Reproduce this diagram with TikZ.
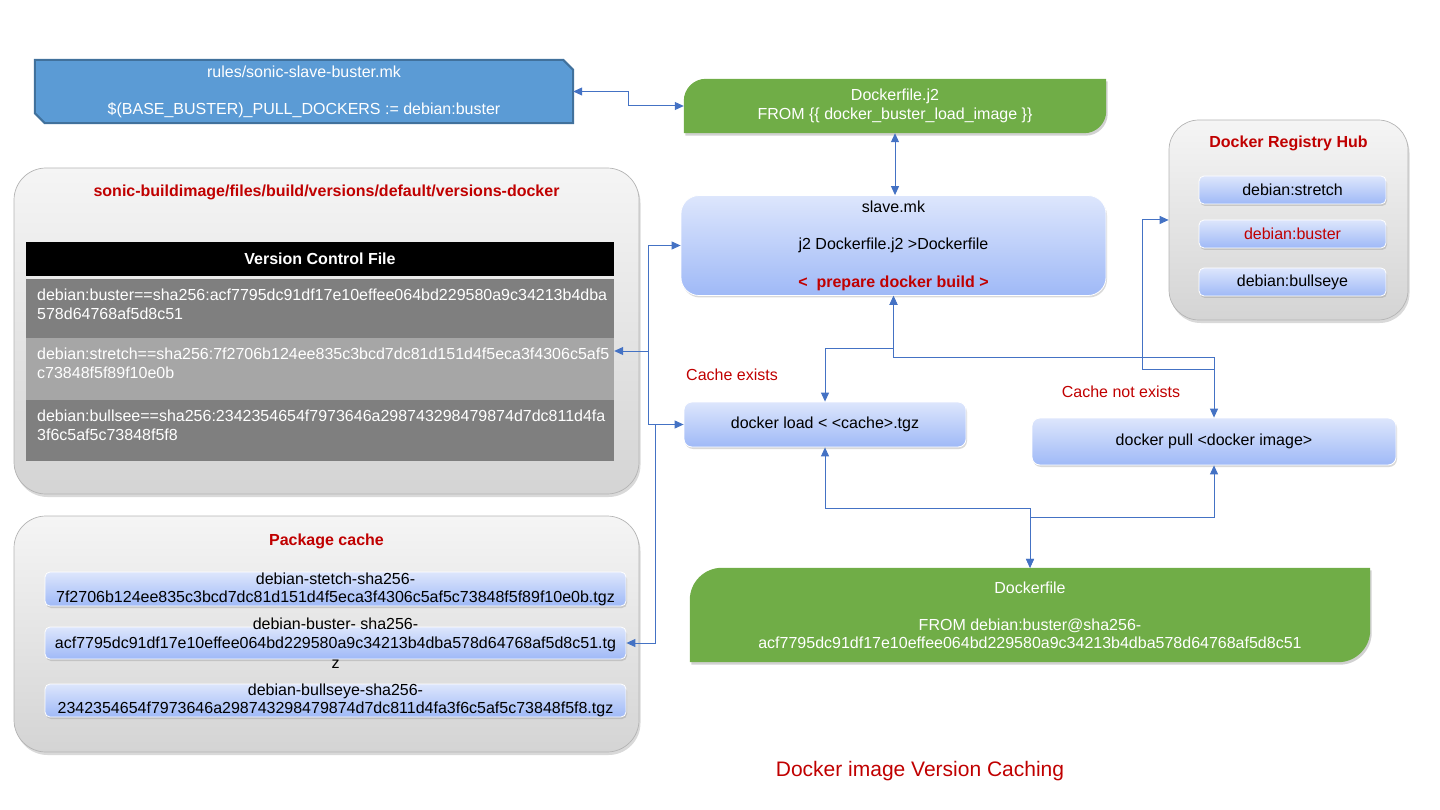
\documentclass[tikz,border=0pt]{standalone}
\usepackage{fontspec}
\setmainfont{Liberation Sans}
\usetikzlibrary{arrows.meta,shadows,calc}
\definecolor{cblue}{HTML}{4472C4}
\definecolor{gfill}{HTML}{70AD47}
\definecolor{rfill}{HTML}{5B9BD5}
\definecolor{rdraw}{HTML}{41719C}
\definecolor{dred}{HTML}{C00000}
\definecolor{bt}{HTML}{DDE6FC}
\definecolor{bb}{HTML}{9FB9F7}
\definecolor{gt}{HTML}{F5F5F5}
\definecolor{gb}{HTML}{D4D4D4}
\definecolor{gdraw}{HTML}{B4B4B4}
\definecolor{rowa}{HTML}{7F7F7F}
\definecolor{rowb}{HTML}{A6A6A6}
\newcommand\fsz{\fontsize{16pt}{19pt}\selectfont}
\newcommand\greenshape[3]{%
 \path[#3] (#1.south west) -- ($(#1.north west)+(0,#2)$) .. controls ($(#1.north west)+(0,0.45*#2)$) and ($(#1.north west)+(0.45*#2,0)$) .. ($(#1.north west)+(#2,0)$) -- (#1.north east) -- ($(#1.south east)+(0,-#2)$) .. controls ($(#1.south east)+(0,-0.45*#2)$) and ($(#1.south east)+(-0.45*#2,0)$) .. ($(#1.south east)+(-#2,0)$) -- cycle;}
\pgfdeclarelayer{bg}
\pgfsetlayers{bg,main}
\begin{document}
\begin{tikzpicture}[x=1pt,y=-1pt,
  every node/.style={font=\fsz, inner sep=0pt},
  conn/.style={draw=cblue, line width=1pt},
  bi/.style={conn, {Triangle[length=9pt,width=8pt]}-{Triangle[length=9pt,width=8pt]}},
  uni/.style={conn, -{Triangle[length=9pt,width=8pt]}},
  ctr/.style={rounded corners=32pt, top color=gt, bottom color=gb, draw=gdraw, line width=0.7pt,
    drop shadow={opacity=0.3, shadow xshift=1.5pt, shadow yshift=-3pt}},
  bbox/.style={top color=bt, bottom color=bb, draw=white, line width=0.8pt,
    drop shadow={opacity=0.3, shadow xshift=1pt, shadow yshift=-2pt}},
  ttl/.style={text=dred, font=\fsz\bfseries},
  rowtxt/.style={anchor=north west, align=left, text=white},
  redtxt/.style={text=dred}
]
\useasboundingbox (0,0) rectangle (1440,810);

% containers
\node[ctr, minimum width=625pt, minimum height=326pt] (vc) at (326.5,331) {};
\node[ctr, minimum width=625pt, minimum height=236pt] (pc) at (326.5,634) {};
\node[ctr, rounded corners=30pt, minimum width=239pt, minimum height=200pt] (hub) at (1288.5,220) {};

\node[ttl] (vct) at (326.5,192) {sonic-buildimage/files/build/versions/default/versions-docker};
\node[ttl] (pct) at (326.5,541) {Package cache};
\node[ttl] (hubt) at (1288.5,143) {Docker Registry Hub};

% table
\node[fill=black, minimum width=588pt, minimum height=34pt, text=white, font=\fsz\bfseries] (hdr) at (320,259) {Version Control File};
\node[fill=rowa, minimum width=588pt, minimum height=59pt] (r1) at (320,308.5) {};
\node[fill=rowb, minimum width=588pt, minimum height=62pt] (r2) at (320,369) {};
\node[fill=rowa, minimum width=588pt, minimum height=61pt] (r3) at (320,430.5) {};
\node[rowtxt] (t1) at (37,289) {debian:buster==sha256:acf7795dc91df17e10effee064bd229580a9c34213b4dba\\578d64768af5d8c51};
\node[rowtxt] (t2) at (37,348) {debian:stretch==sha256:7f2706b124ee835c3bcd7dc81d151d4f5eca3f4306c5af5\\c73848f5f89f10e0b};
\node[rowtxt] (t3) at (37,410) {debian:bullsee==sha256:2342354654f7973646a298743298479874d7dc811d4fa\\3f6c5af5c73848f5f8};

% package cache items
\node[bbox, rounded corners=5pt, minimum width=581pt, minimum height=34pt, align=center, font=\fontsize{16pt}{18pt}\selectfont] (p1) at (335.5,589) {debian-stetch-sha256-\\7f2706b124ee835c3bcd7dc81d151d4f5eca3f4306c5af5c73848f5f89f10e0b.tgz};
\node[bbox, rounded corners=5pt, minimum width=581pt, minimum height=32pt,
  label={[align=center, font=\fontsize{16pt}{19.5pt}\selectfont]center:debian-buster- sha256-\\acf7795dc91df17e10effee064bd229580a9c34213b4dba578d64768af5d8c51.tg\\z}] (p2) at (335.5,643) {};
\node[bbox, rounded corners=5pt, minimum width=581pt, minimum height=33pt, align=center, font=\fontsize{16pt}{18pt}\selectfont] (p3) at (335.5,700.5) {debian-bullseye-sha256-\\2342354654f7973646a298743298479874d7dc811d4fa3f6c5af5c73848f5f8.tgz};

% registry items
\node[bbox, rounded corners=5pt, minimum width=187pt, minimum height=28pt] (h1) at (1292.5,190) {debian:stretch};
\node[bbox, rounded corners=5pt, minimum width=187pt, minimum height=28pt, text=dred] (h2) at (1292.5,234) {debian:buster};
\node[bbox, rounded corners=5pt, minimum width=187pt, minimum height=28pt] (h3) at (1292.5,282) {debian:bullseye};

% top boxes
\node[text=white, align=center, font=\fontsize{16pt}{37pt}\selectfont, minimum width=538pt, minimum height=63pt] (rules) at (304,91.5) {rules/sonic-slave-buster.mk\\\$(BASE\_BUSTER)\_PULL\_DOCKERS := debian:buster};
\node[text=white, align=center, font=\fontsize{16pt}{18.5pt}\selectfont, minimum width=422pt, minimum height=54pt] (dj2) at (895,106) {Dockerfile.j2\\FROM \{\{ docker\_buster\_load\_image \}\}};

% slave.mk
\node[bbox, rounded corners=18pt, minimum width=425pt, minimum height=100pt, align=center, font=\fontsize{16pt}{37.5pt}\selectfont] (slave) at (893.5,245.5) {slave.mk\\j2 Dockerfile.j2 >Dockerfile\\{\color{dred}\bfseries <~ prepare docker build >}};

% load / pull
\node[bbox, rounded corners=8pt, minimum width=282pt, minimum height=45pt] (load) at (825,424.5) {docker load < <cache>.tgz};
\node[bbox, rounded corners=8pt, minimum width=364pt, minimum height=47pt] (pull) at (1214,441.5) {docker pull <docker image>};

% final Dockerfile
\node[text=white, align=center, font=\fontsize{16pt}{18pt}\selectfont, minimum width=680pt, minimum height=94pt] (df) at (1030,615) {Dockerfile\\[19pt]FROM debian:buster@sha256-\\acf7795dc91df17e10effee064bd229580a9c34213b4dba578d64768af5d8c51};

% labels
\node[redtxt] (ce) at (732,375) {Cache exists};
\node[redtxt] (cne) at (1121,392) {Cache not exists};
\node[redtxt, font=\fontsize{21pt}{25pt}\selectfont] (title) at (920,771) {Docker image Version Caching};

% background shapes
\begin{pgfonlayer}{bg}
\filldraw[fill=rfill, draw=rdraw, line width=2pt] (rules.north west) -- ($(rules.north east)+(-10,0)$) -- ($(rules.north east)+(0,10)$) -- (rules.south east) -- ($(rules.south west)+(10,0)$) -- ($(rules.south west)+(0,-10)$) -- cycle;
\greenshape{dj2}{22}{fill=black, opacity=0.18, transform canvas={shift={(1.5,2.5)}}}
\greenshape{dj2}{22}{fill=gfill}
\greenshape{df}{32}{fill=black, opacity=0.18, transform canvas={shift={(1.5,2.5)}}}
\greenshape{df}{32}{fill=gfill}
\end{pgfonlayer}

% connectors
\coordinate (j1) at (648,351);
\coordinate (j2) at (655,424.5);
\coordinate (b1) at (825,348);
\coordinate (b2) at (1214,357);
\coordinate (b3) at (1214,369);
\coordinate (b4) at (1142,369);
\coordinate (b5) at (825,508);
\coordinate (b6) at (1214,517);

\draw[bi] (rules.east) -- ++(55,0) |- (dj2.west);
\draw[bi] (dj2.south) -- (dj2.south |- slave.north);
\draw[bi] (slave.west) -| (j1) -- (r2.east |- j1);
\draw[uni] (j1) |- (load.west);
\draw[uni] (j2) |- (p2.east);
\draw[bi] (slave.south) |- (b1) -- (load.north);
\draw[bi] (slave.south) |- (b2) -- (pull.north);
\draw[uni] (b3) -- (b4) |- (hub.west);
\draw[bi] (load.south) -- (b5) -| (df.north);
\draw[bi] (pull.south) -- (b6) -| (df.north);
\end{tikzpicture}
\end{document}
